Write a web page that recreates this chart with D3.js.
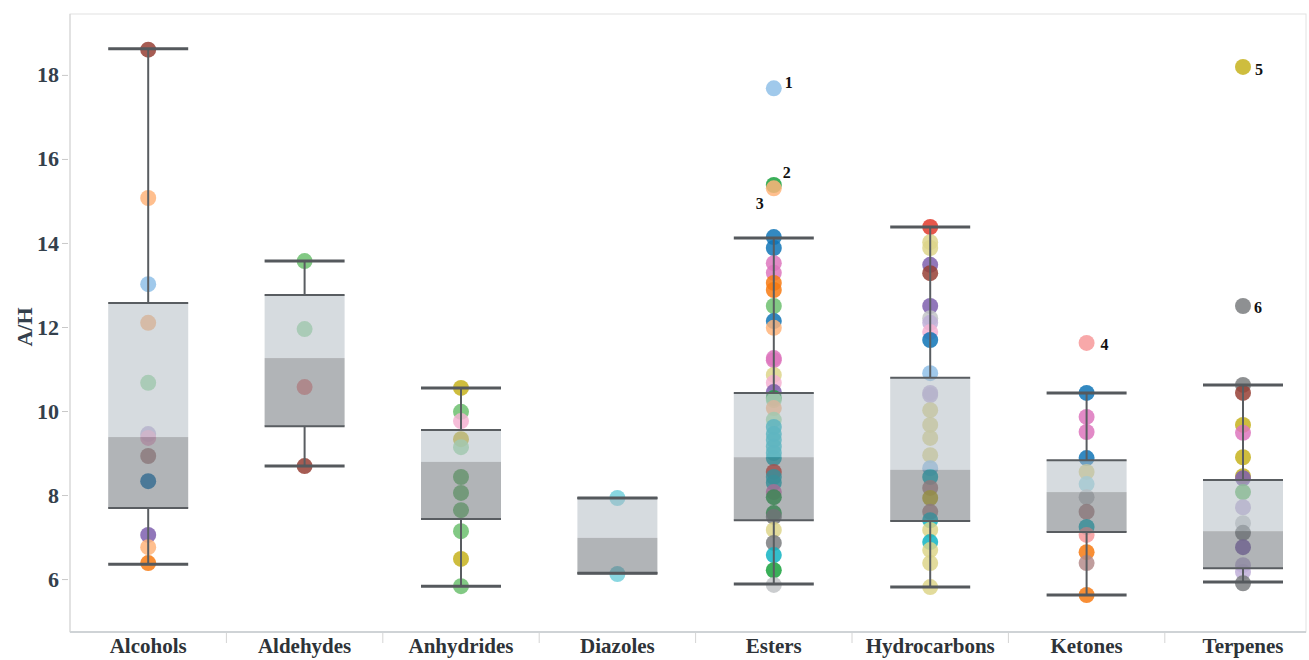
<!DOCTYPE html>
<html>
<head>
<meta charset="utf-8">
<script src="https://cdn.jsdelivr.net/npm/d3@7"></script>
<style>
  body { margin: 0; background: #fff; }
  svg text { font-family: "Liberation Serif", "Times New Roman", serif; font-weight: bold; }
</style>
</head>
<body>
<div id="graph"></div>
<script>
const categories = ["Alcohols", "Aldehydes", "Anhydrides", "Diazoles", "Esters", "Hydrocarbons", "Ketones", "Terpenes"];
const yTicks = [6, 8, 10, 12, 14, 16, 18];

// box plot statistics, one entry per category
const whiskerLow  = [6.35, 8.69, 5.83, 6.14, 5.88, 5.81, 5.62, 5.93];
const q1          = [7.69, 9.64, 7.43, 6.14, 7.40, 7.38, 7.12, 6.26];
const median      = [9.38, 11.26, 8.79, 6.98, 8.90, 8.60, 8.07, 7.14];
const q3          = [12.57, 12.76, 9.55, 7.93, 10.43, 10.79, 8.83, 8.36];
const whiskerHigh = [18.62, 13.57, 10.55, 7.93, 14.12, 14.38, 10.43, 10.62];

// individual compounds (A/H) and their colour key
const alcohols = [18.6, 15.07, 13.02, 12.1, 10.67, 9.45, 9.36, 8.93, 8.33, 7.05, 6.76, 6.38];
const alcoholsC = ["brown", "lorange", "sky", "lorange", "lgreen", "lpurple", "lpink", "lbrown", "blue", "purple", "lorange", "orange"];
const aldehydes = [13.57, 11.95, 10.57, 8.69];
const aldehydesC = ["sgreen", "lgreen", "lred", "brown"];
const anhydrides = [10.55, 9.98, 9.76, 9.33, 9.14, 8.43, 8.05, 7.64, 7.14, 6.48, 5.83];
const anhydridesC = ["olive", "sgreen", "lpink", "olive", "lgreen", "sgreen", "sgreen", "sgreen", "sgreen", "olive", "sgreen"];
const diazoles = [7.93, 6.12];
const diazolesC = ["cyan", "cyan"];
const esters = [17.68, 15.38, 15.30, 14.14, 13.88, 13.52, 13.29, 13.05, 12.88, 12.5, 12.14, 11.98, 11.26, 11.21,
  10.86, 10.67, 10.45, 10.31, 10.26, 10.07, 9.79, 9.62, 9.45, 9.31, 9.15, 9.0, 8.88, 8.55, 8.43, 8.29, 8.07, 7.95,
  7.57, 7.48, 7.17, 6.86, 6.57, 6.21, 5.86];
const estersC = ["sky", "green", "lorange", "blue", "blue", "pink", "pink", "orange", "orange", "sgreen", "blue", "lorange", "pink", "pink",
  "lolive", "lpink", "purple", "green", "lgreen", "lorange", "lgreen", "teal", "teal", "teal", "teal", "teal", "teal", "red", "teal", "teal", "pink", "green",
  "green", "gray", "lolive", "gray", "teal", "green", "lgray"];
const hydrocarbons = [14.38, 14.02, 13.88, 13.48, 13.28, 12.5, 12.21, 12.1, 11.88, 11.69, 10.9, 10.43, 10.38, 10.02,
  9.67, 9.36, 8.95, 8.64, 8.43, 8.17, 7.93, 7.6, 7.4, 7.17, 6.88, 6.69, 6.38, 5.81];
const hydrocarbonsC = ["red", "lolive", "lolive", "purple", "brown", "purple", "lgray", "lpurple", "lpink", "blue", "sky", "lpurple", "lpurple", "lolive",
  "lolive", "lolive", "lolive", "sky", "teal", "lbrown", "olive", "lbrown", "teal", "lolive", "teal", "lolive", "lolive", "lolive"];
const ketones = [11.62, 10.43, 9.86, 9.5, 8.88, 8.55, 8.26, 7.95, 7.6, 7.24, 7.05, 6.64, 6.38, 5.62];
const ketonesC = ["lred", "blue", "pink", "pink", "blue", "lolive", "lteal", "lgray", "lbrown", "teal", "lred", "orange", "lbrown", "orange"];
const terpenes = [18.19, 12.5, 10.62, 10.43, 9.67, 9.48, 8.9, 8.45, 8.4, 8.07, 7.71, 7.33, 7.1, 6.76, 6.33, 6.17, 5.9];
const terpenesC = ["olive", "gray", "gray", "brown", "olive", "pink", "olive", "olive", "purple", "sgreen", "lpurple", "lgray", "gray", "purple", "lpurple", "lpurple", "gray"];

// numbered outliers
const noteCat = ["Esters", "Esters", "Esters", "Ketones", "Terpenes", "Terpenes"];
const noteVal = [17.68, 15.38, 15.30, 11.62, 18.19, 12.5];
const noteText = ["1", "2", "3", "4", "5", "6"];

const palette = {
  blue: "#0f74b6", sky: "#8fc0e8", orange: "#f77a12", lorange: "#ffb47a",
  green: "#17a13c", sgreen: "#6cc06e", lgreen: "#98d8a0", red: "#e03a2c", lred: "#f7999a",
  purple: "#7e5fae", lpurple: "#c0afd8", brown: "#963f35", lbrown: "#b58c8c",
  pink: "#dd76bd", lpink: "#f4b2d2", gray: "#7a7c7f", lgray: "#c2c4c7",
  olive: "#c6b21c", lolive: "#ddd58a", teal: "#11b3c2", lteal: "#9edae5", cyan: "#74d0dc"
};

const pointSets = [
  [alcohols, alcoholsC], [aldehydes, aldehydesC], [anhydrides, anhydridesC], [diazoles, diazolesC],
  [esters, estersC], [hydrocarbons, hydrocarbonsC], [ketones, ketonesC], [terpenes, terpenesC]
];

function chart() {
  const W = 1309, H = 660;
  const plot = { left: 70, right: 1306, top: 14, bottom: 632 };
  const boxWidth = 80;
  const radius = 8;
  const textColor = "#34404c";

  const svg = d3.select("#graph").append("svg").attr("width", W).attr("height", H);

  const x = d3.scaleBand().domain(categories).range([plot.left, plot.left + 8 * 156.4]);
  const y = d3.scaleLinear().domain([4.74, 19.45]).range([plot.bottom, plot.top]);
  const cx = c => x(c) + x.bandwidth() / 2;

  // frame
  svg.append("rect")
    .attr("x", plot.left).attr("y", plot.top)
    .attr("width", plot.right - plot.left).attr("height", plot.bottom - plot.top)
    .attr("fill", "none").attr("stroke", "#e2e2e2").attr("stroke-width", 1);

  // y axis
  const yAxis = svg.append("g")
    .attr("transform", "translate(" + (plot.left - 2) + ",0)")
    .call(d3.axisLeft(y).tickValues(yTicks).tickSize(6).tickPadding(3));
  yAxis.select(".domain").remove();
  yAxis.selectAll("line").attr("stroke", "#c8c8c8");
  yAxis.selectAll("text").attr("font-size", 22).attr("fill", textColor)
    .attr("font-family", "Liberation Serif").attr("font-weight", "bold");
  svg.append("line").attr("x1", plot.left).attr("x2", plot.left)
    .attr("y1", plot.top).attr("y2", plot.bottom).attr("stroke", "#d4d4d4");

  svg.append("text")
    .attr("transform", "translate(32," + y(12) + ") rotate(-90)")
    .attr("text-anchor", "middle")
    .attr("font-size", 22).attr("fill", textColor)
    .text("A/H");

  // x axis
  svg.append("line").attr("x1", plot.left).attr("x2", plot.right)
    .attr("y1", plot.bottom).attr("y2", plot.bottom)
    .attr("stroke", "#cfd3d6").attr("stroke-width", 2);
  const xAxis = svg.append("g")
    .attr("transform", "translate(0," + plot.bottom + ")")
    .call(d3.axisBottom(x).tickSize(0).tickPadding(6));
  xAxis.select(".domain").remove();
  xAxis.selectAll("text").attr("font-size", 21).attr("fill", "#2e3338")
    .attr("font-family", "Liberation Serif").attr("font-weight", "bold");
  svg.selectAll("line.sep").data(categories.slice(1)).enter()
    .append("line").attr("class", "sep")
    .attr("x1", d => x(d)).attr("x2", d => x(d))
    .attr("y1", plot.bottom + 1).attr("y2", plot.bottom + 11)
    .attr("stroke", "#d4d4d4");

  // points
  const points = [];
  pointSets.forEach((set, i) => {
    set[0].forEach((v, j) => points.push({ cat: categories[i], v: v, c: set[1][j] }));
  });
  svg.append("g").selectAll("circle").data(points).enter()
    .append("circle")
    .attr("cx", d => cx(d.cat))
    .attr("cy", d => y(d.v))
    .attr("r", radius)
    .attr("fill", d => palette[d.c])
    .attr("fill-opacity", 0.85);

  // boxes
  const boxes = categories.map((c, i) => ({
    cat: c, lo: whiskerLow[i], q1: q1[i], med: median[i], q3: q3[i], hi: whiskerHigh[i]
  }));
  const g = svg.append("g");
  g.selectAll("rect.upper").data(boxes).enter().append("rect").attr("class", "upper")
    .attr("x", d => cx(d.cat) - boxWidth / 2).attr("width", boxWidth)
    .attr("y", d => y(d.q3)).attr("height", d => y(d.med) - y(d.q3))
    .attr("fill", "#aeb7bf").attr("fill-opacity", 0.5);
  g.selectAll("rect.lower").data(boxes).enter().append("rect").attr("class", "lower")
    .attr("x", d => cx(d.cat) - boxWidth / 2).attr("width", boxWidth)
    .attr("y", d => y(d.med)).attr("height", d => y(d.q1) - y(d.med))
    .attr("fill", "#636a70").attr("fill-opacity", 0.5);

  // whiskers: from box edge out to the caps
  [["q3", "hi"], ["q1", "lo"]].forEach(([a, b]) => {
    g.selectAll("line.whisk" + b).data(boxes.filter(d => d[a] !== d[b])).enter()
      .append("line").attr("class", "whisk" + b)
      .attr("x1", d => cx(d.cat)).attr("x2", d => cx(d.cat))
      .attr("y1", d => y(d[a])).attr("y2", d => y(d[b]))
      .attr("stroke", "#595d61").attr("stroke-width", 2);
  });
  ["q1", "q3"].forEach(k => {
    g.selectAll("line.edge" + k).data(boxes).enter().append("line").attr("class", "edge" + k)
      .attr("x1", d => cx(d.cat) - boxWidth / 2).attr("x2", d => cx(d.cat) + boxWidth / 2)
      .attr("y1", d => y(d[k])).attr("y2", d => y(d[k]))
      .attr("stroke", "#595d61").attr("stroke-width", 2);
  });
  ["lo", "hi"].forEach(k => {
    g.selectAll("line.cap" + k).data(boxes).enter().append("line").attr("class", "cap" + k)
      .attr("x1", d => cx(d.cat) - boxWidth / 2).attr("x2", d => cx(d.cat) + boxWidth / 2)
      .attr("y1", d => y(d[k])).attr("y2", d => y(d[k]))
      .attr("stroke", "#55595d").attr("stroke-width", 3);
  });

  // numbered outliers
  const offs = [[11, -6], [9, -13], [-18, 15], [14, 1], [12, 2], [11, 1]];
  svg.selectAll("text.note").data(noteText).enter().append("text").attr("class", "note")
    .attr("x", (d, i) => cx(noteCat[i]) + offs[i][0])
    .attr("y", (d, i) => y(noteVal[i]) + offs[i][1])
    .attr("dy", "0.35em")
    .attr("font-size", 16).attr("fill", "#111")
    .text(d => d);
}

chart();
</script>
</body>
</html>
